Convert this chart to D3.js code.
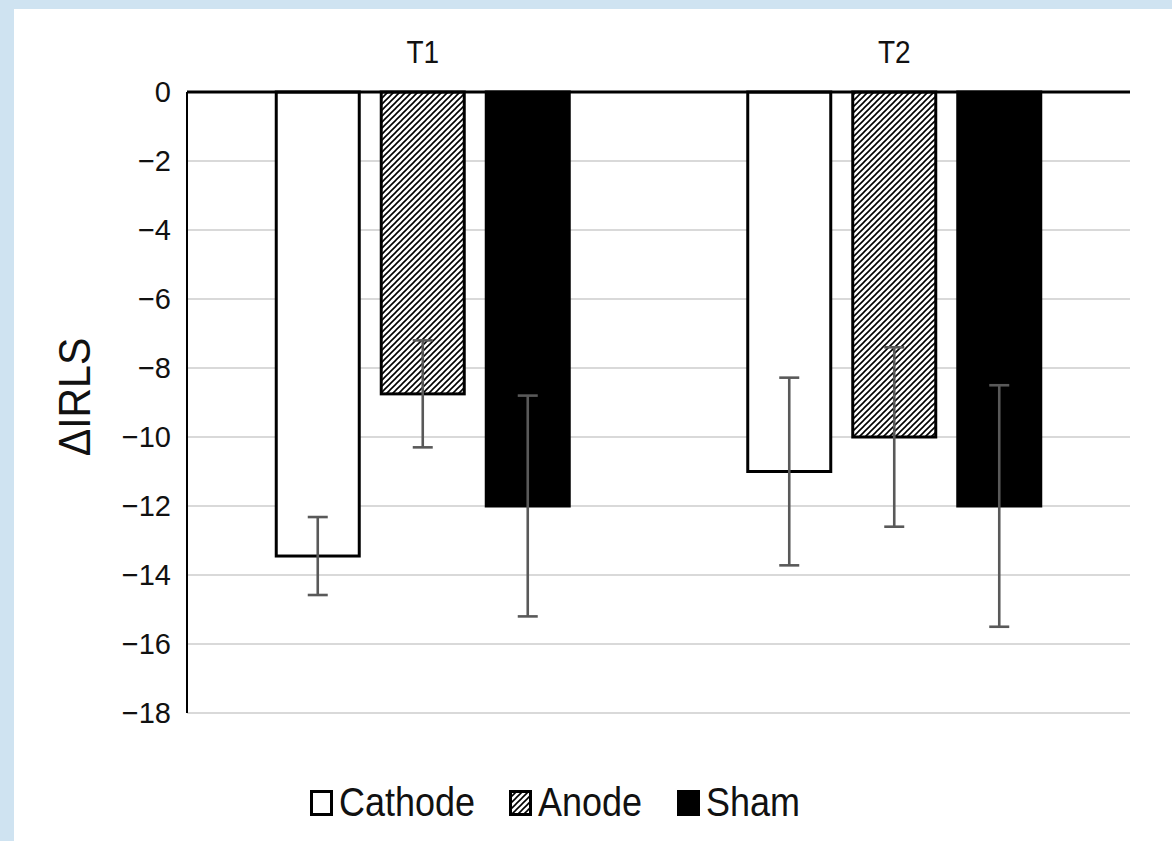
<!DOCTYPE html>
<html>
<head>
<meta charset="utf-8">
<script src="https://cdn.jsdelivr.net/npm/d3@7"></script>
<style>
  html, body { margin: 0; padding: 0; background: #cfe3f1; }
  svg { display: block; }
  text { font-family: "Liberation Sans", Arial, sans-serif; fill: #111; }
</style>
</head>
<body>
<svg id="chart" width="1172" height="841"></svg>
<script>
// Change in IRLS score by time point and stimulation group (mean ± error)
const timepoints = ["T1", "T2"];
const groups = ["Cathode", "Anode", "Sham"];
const cathodeMean = [-13.45, -11.0];
const anodeMean = [-8.75, -10.0];
const shamMean = [-12.0, -12.0];
const cathodeErr = [1.13, 2.72];
const anodeErr = [1.55, 2.6];
const shamErr = [3.2, 3.5];
const yTicks = [0, -2, -4, -6, -8, -10, -12, -14, -16, -18];
const yTitle = "ΔIRLS";

const means = { Cathode: cathodeMean, Anode: anodeMean, Sham: shamMean };
const errs = { Cathode: cathodeErr, Anode: anodeErr, Sham: shamErr };
const rows = [];
timepoints.forEach((t, i) => groups.forEach(g => rows.push({ t, g, v: means[g][i], e: errs[g][i] })));

const svg = d3.select("#chart");

// white panel
svg.append("rect").attr("x", 14).attr("y", 9).attr("width", 1172 - 14).attr("height", 841 - 9).attr("fill", "#ffffff");

// hatch pattern for the Anode group
const defs = svg.append("defs");
const pat = defs.append("pattern").attr("id", "hatch").attr("patternUnits", "userSpaceOnUse")
  .attr("width", 6).attr("height", 6);
pat.append("rect").attr("width", 6).attr("height", 6).attr("fill", "#fff");
pat.append("path").attr("d", "M-1,1 l2,-2 M0,6 l6,-6 M5,7 l2,-2").attr("stroke", "#000").attr("stroke-width", 1.6);

const fills = { Cathode: "#ffffff", Anode: "url(#hatch)", Sham: "#000000" };

const plotLeft = 187, plotRight = 1130, plotTop = 92, plotBottom = 713;
const y = d3.scaleLinear().domain([-18, 0]).range([plotBottom, plotTop]);
const x0 = d3.scaleBand().domain(timepoints).range([plotLeft, plotRight]).padding(0);
const x1 = d3.scaleBand().domain(groups).range([0, x0.bandwidth()]).paddingInner(0.2095).paddingOuter(0.85);

// horizontal gridlines
svg.append("g").selectAll("line").data(yTicks.filter(d => d !== 0)).join("line")
  .attr("x1", plotLeft).attr("x2", plotRight)
  .attr("y1", d => y(d)).attr("y2", d => y(d))
  .attr("stroke", "#d9d9d9").attr("stroke-width", 2.2);

// y axis labels
const yAxis = d3.axisLeft(y).tickValues(yTicks).tickSize(0).tickPadding(16)
  .tickFormat(d => d === 0 ? "0" : "\u2212" + Math.abs(d));
const ga = svg.append("g").attr("transform", `translate(${plotLeft},0)`).call(yAxis);
ga.select(".domain").remove();
ga.selectAll("text").attr("font-size", 29).attr("font-family", "Liberation Sans, Arial, sans-serif").attr("fill", "#1a1a1a");

// bars
svg.append("g").selectAll("rect").data(rows).join("rect")
  .attr("x", d => x0(d.t) + x1(d.g))
  .attr("width", x1.bandwidth())
  .attr("y", d => y(0))
  .attr("height", d => y(d.v) - y(0))
  .attr("fill", d => fills[d.g])
  .attr("stroke", "#000").attr("stroke-width", 3);

// vertical axis line and zero baseline
svg.append("line").attr("x1", plotLeft).attr("x2", plotLeft).attr("y1", y(0)).attr("y2", y(-18))
  .attr("stroke", "#000").attr("stroke-width", 2);
svg.append("line").attr("x1", plotLeft).attr("x2", plotRight).attr("y1", y(0)).attr("y2", y(0))
  .attr("stroke", "#000").attr("stroke-width", 3);

// error bars
const eb = svg.append("g").attr("stroke", "#595959").attr("stroke-width", 2.6);
rows.forEach(d => {
  const cx = x0(d.t) + x1(d.g) + x1.bandwidth() / 2;
  eb.append("line").attr("x1", cx).attr("x2", cx).attr("y1", y(d.v + d.e)).attr("y2", y(d.v - d.e));
  eb.append("line").attr("x1", cx - 10).attr("x2", cx + 10).attr("y1", y(d.v + d.e)).attr("y2", y(d.v + d.e));
  eb.append("line").attr("x1", cx - 10).attr("x2", cx + 10).attr("y1", y(d.v - d.e)).attr("y2", y(d.v - d.e));
});

// category labels above the plot (slightly tall lettering)
svg.append("g").selectAll("text").data(timepoints).join("text")
  .attr("transform", d => `translate(${x0(d) + x0.bandwidth() / 2},63) scale(1,1.15)`)
  .attr("text-anchor", "middle")
  .attr("font-size", 28)
  .text(d => d);

// y axis title
svg.append("text")
  .attr("transform", "translate(90,397) rotate(-90) scale(1,1.08)")
  .attr("text-anchor", "middle")
  .attr("font-size", 41)
  .text(yTitle);

// legend
const legendX = [310, 509, 677];
const lg = svg.append("g");
groups.forEach((g, i) => {
  lg.append("rect").attr("x", legendX[i] + 1.5).attr("y", 791.5).attr("width", 20).attr("height", 23)
    .attr("fill", fills[g]).attr("stroke", "#000").attr("stroke-width", 3);
  lg.append("text").attr("transform", `translate(${legendX[i] + 29},816) scale(1,1.12)`)
    .attr("font-size", 36).text(g);
});
</script>
</body>
</html>
